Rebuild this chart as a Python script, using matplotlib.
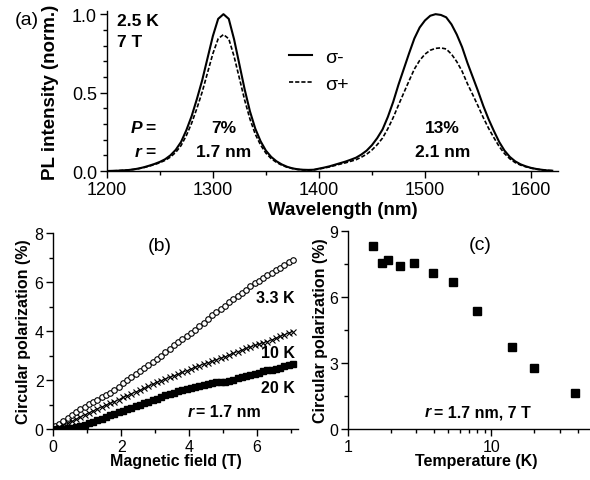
import numpy as np
import matplotlib
matplotlib.use("Agg")
import matplotlib.pyplot as plt
from matplotlib.ticker import MultipleLocator, LogLocator, NullFormatter, FixedLocator, FixedFormatter

plt.rcParams['font.family'] = ['Liberation Sans', 'DejaVu Sans']
plt.rcParams['axes.linewidth'] = 1.0

# (a) PL spectra, 2.5 K, 7 T
wavelength = [1200, 1205, 1210, 1215, 1220, 1225, 1230, 1235, 1240, 1245,
              1250, 1255, 1260, 1265, 1270, 1275, 1280, 1285, 1290, 1295,
              1300, 1305, 1310, 1315, 1320, 1325, 1330, 1335, 1340, 1345,
              1350, 1355, 1360, 1365, 1370, 1375, 1380, 1385, 1390, 1395,
              1400, 1405, 1410, 1415, 1420, 1425, 1430, 1435, 1440, 1445,
              1450, 1455, 1460, 1465, 1470, 1475, 1480, 1485, 1490, 1495,
              1500, 1505, 1510, 1515, 1520, 1525, 1530, 1535, 1540, 1545,
              1550, 1555, 1560, 1565, 1570, 1575, 1580, 1585, 1590, 1595,
              1600, 1605, 1610, 1615, 1620]
sigma_minus = [0.000, 0.001, 0.002, 0.004, 0.006, 0.010, 0.016, 0.024, 0.034, 0.045,
               0.058, 0.075, 0.100, 0.135, 0.185, 0.260, 0.350, 0.460, 0.580, 0.720,
               0.860, 0.970, 1.000, 0.970, 0.840, 0.680, 0.520, 0.380, 0.270, 0.190,
               0.130, 0.090, 0.062, 0.042, 0.027, 0.017, 0.011, 0.008, 0.007, 0.008,
               0.015, 0.022, 0.030, 0.040, 0.050, 0.060, 0.072, 0.085, 0.105, 0.130,
               0.165, 0.210, 0.265, 0.345, 0.440, 0.550, 0.650, 0.750, 0.845, 0.915,
               0.960, 0.990, 1.000, 0.995, 0.980, 0.935, 0.870, 0.790, 0.690, 0.600,
               0.510, 0.415, 0.330, 0.255, 0.185, 0.130, 0.090, 0.062, 0.043, 0.030,
               0.020, 0.013, 0.008, 0.004, 0.002]
sigma_plus = [0.000, 0.001, 0.002, 0.004, 0.006, 0.010, 0.015, 0.022, 0.031, 0.041,
              0.053, 0.068, 0.089, 0.119, 0.162, 0.226, 0.305, 0.400, 0.505, 0.627,
              0.748, 0.843, 0.870, 0.843, 0.731, 0.592, 0.452, 0.331, 0.235, 0.166,
              0.114, 0.079, 0.055, 0.037, 0.024, 0.016, 0.010, 0.007, 0.006, 0.007,
              0.013, 0.019, 0.026, 0.035, 0.044, 0.052, 0.062, 0.072, 0.088, 0.107,
              0.134, 0.168, 0.210, 0.270, 0.340, 0.420, 0.498, 0.575, 0.650, 0.705,
              0.745, 0.770, 0.782, 0.785, 0.778, 0.745, 0.697, 0.636, 0.557, 0.487,
              0.415, 0.340, 0.272, 0.212, 0.156, 0.111, 0.078, 0.054, 0.038, 0.027,
              0.018, 0.012, 0.007, 0.004, 0.002]

# (b) circular polarization vs magnetic field
field = [0.05, 0.175, 0.3, 0.425, 0.55, 0.675, 0.8, 0.925, 1.05, 1.175,
         1.3, 1.425, 1.55, 1.675, 1.8, 1.925, 2.05, 2.175, 2.3, 2.425,
         2.55, 2.675, 2.8, 2.925, 3.05, 3.175, 3.3, 3.425, 3.55, 3.675,
         3.8, 3.925, 4.05, 4.175, 4.3, 4.425, 4.55, 4.675, 4.8, 4.925,
         5.05, 5.175, 5.3, 5.425, 5.55, 5.675, 5.8, 5.925, 6.05, 6.175,
         6.3, 6.425, 6.55, 6.675, 6.8, 6.925, 7.05]
pol_3K = [0.12, 0.22, 0.34, 0.46, 0.58, 0.69, 0.80, 0.91, 1.01, 1.10,
          1.19, 1.29, 1.39, 1.49, 1.60, 1.73, 1.86, 1.99, 2.12, 2.25,
          2.37, 2.50, 2.62, 2.74, 2.86, 2.99, 3.13, 3.27, 3.41, 3.54,
          3.67, 3.80, 3.93, 4.06, 4.19, 4.33, 4.49, 4.64, 4.78, 4.91,
          5.04, 5.17, 5.30, 5.43, 5.56, 5.69, 5.82, 5.94, 6.05, 6.16,
          6.27, 6.37, 6.47, 6.58, 6.69, 6.80, 6.91]
pol_10K = [0.04, 0.10, 0.16, 0.23, 0.31, 0.40, 0.49, 0.58, 0.67, 0.74,
           0.83, 0.90, 0.98, 1.05, 1.12, 1.20, 1.29, 1.36, 1.44, 1.52,
           1.58, 1.66, 1.74, 1.83, 1.91, 1.98, 2.05, 2.11, 2.18, 2.24,
           2.31, 2.38, 2.45, 2.52, 2.59, 2.65, 2.71, 2.77, 2.83, 2.89,
           2.95, 3.02, 3.09, 3.16, 3.22, 3.29, 3.35, 3.41, 3.46, 3.52,
           3.57, 3.64, 3.71, 3.78, 3.85, 3.92, 3.98]
pol_20K = [0.02, 0.02, 0.02, 0.03, 0.05, 0.08, 0.13, 0.18, 0.24, 0.30,
           0.36, 0.42, 0.49, 0.56, 0.62, 0.69, 0.75, 0.81, 0.86, 0.92,
           0.98, 1.05, 1.11, 1.17, 1.24, 1.30, 1.37, 1.43, 1.49, 1.54,
           1.59, 1.63, 1.67, 1.71, 1.75, 1.79, 1.83, 1.88, 1.93, 1.92,
           1.90, 1.95, 2.01, 2.07, 2.12, 2.17, 2.22, 2.26, 2.30, 2.35,
           2.39, 2.41, 2.44, 2.50, 2.57, 2.62, 2.65]

# (c) circular polarization vs temperature
temperature = [1.50, 1.74, 1.91, 2.29, 2.88, 3.89, 5.39, 7.98, 13.9, 19.9, 38.3]
pol_temp = [8.31, 7.54, 7.67, 7.43, 7.54, 7.10, 6.68, 5.36, 3.75, 2.79, 1.65]


def style_axes(ax, size):
    for side in ['top', 'right']:
        ax.spines[side].set_visible(False)
    ax.tick_params(which='major', direction='out', length=5, width=1, labelsize=size, pad=2)
    ax.tick_params(which='minor', direction='out', length=3, width=1)


def italic_label(ax, x_sym, x_eq, y, sym, rest, size):
    ax.text(x_sym, y, sym, transform=ax.transAxes, fontsize=size, fontweight='bold',
            style='italic', ha='right', va='center')
    ax.text(x_eq, y, rest, transform=ax.transAxes, fontsize=size, fontweight='bold',
            ha='left', va='center')


fig = plt.figure(figsize=(5.9, 4.81), dpi=100)

# ---- panel (a)
axa = fig.add_axes([0.181, 0.6424, 0.764, 0.3326])
axa.plot(wavelength, sigma_minus, color='black', lw=1.5, label='σ-')
axa.plot(wavelength, sigma_plus, color='black', lw=1.2, ls=(0, (2.5, 1.2)), label='σ+')
axa.set_xlim(1200, 1625)
axa.set_ylim(0, 1.02)
axa.xaxis.set_major_locator(MultipleLocator(100))
axa.xaxis.set_minor_locator(MultipleLocator(50))
axa.yaxis.set_major_locator(MultipleLocator(0.5))
axa.yaxis.set_minor_locator(MultipleLocator(0.1))
style_axes(axa, 13)
axa.set_xlabel('Wavelength (nm)', fontsize=13.5, fontweight='bold', va='center')
axa.xaxis.set_label_coords(0.523, -0.2375)
axa.set_ylabel('PL intensity (norm.)', fontsize=13.5, fontweight='bold', va='center')
axa.yaxis.set_label_coords(-0.124, 0.5)
axa.legend(loc='upper left', bbox_to_anchor=(0.405, 0.765), frameon=False, fontsize=14,
           handlelength=1.15, handletextpad=0.7, labelspacing=0.45, borderpad=0, borderaxespad=0)
axa.text(0.022, 0.94, '2.5 K', transform=axa.transAxes, fontsize=12.5, fontweight='bold', va='center')
axa.text(0.022, 0.81, '7 T', transform=axa.transAxes, fontsize=12.5, fontweight='bold', va='center')
italic_label(axa, 0.078, 0.086, 0.275, 'P', '=', 12.5)
italic_label(axa, 0.078, 0.086, 0.125, 'r', '=', 12.5)
axa.text(0.259, 0.275, '7%', transform=axa.transAxes, fontsize=12.5, fontweight='bold', ha='center', va='center')
axa.text(0.259, 0.125, '1.7 nm', transform=axa.transAxes, fontsize=12.5, fontweight='bold', ha='center', va='center')
axa.text(0.745, 0.275, '13%', transform=axa.transAxes, fontsize=12.5, fontweight='bold', ha='center', va='center')
axa.text(0.745, 0.125, '2.1 nm', transform=axa.transAxes, fontsize=12.5, fontweight='bold', ha='center', va='center')
fig.text(0.025, 0.958, '(a)', fontsize=14, ha='left', va='center')

# ---- panel (b)
axb = fig.add_axes([0.0903, 0.106, 0.4147, 0.4075])
axb.plot(field, pol_3K, ls='none', marker='o', ms=4, mfc='white', mec='black', mew=0.8)
axb.plot(field, pol_10K, color='black', lw=0.6, marker='x', ms=4.5, mew=0.8)
axb.plot(field, pol_20K, ls='none', marker='s', ms=4.5, mfc='black', mec='black')
axb.set_xlim(0, 7.2)
axb.set_ylim(0, 8)
axb.xaxis.set_major_locator(MultipleLocator(2))
axb.xaxis.set_minor_locator(MultipleLocator(1))
axb.yaxis.set_major_locator(MultipleLocator(2))
axb.yaxis.set_minor_locator(MultipleLocator(1))
style_axes(axb, 11.5)
axb.set_xlabel('Magnetic field (T)', fontsize=11.5, fontweight='bold', va='center')
axb.xaxis.set_label_coords(0.5, -0.16)
axb.set_ylabel('Circular polarization (%)', fontsize=11.5, fontweight='bold', va='center')
axb.yaxis.set_label_coords(-0.12, 0.5)
axb.text(0.436, 0.934, '(b)', transform=axb.transAxes, fontsize=14, ha='center', va='center')
axb.text(0.988, 0.673, '3.3 K', transform=axb.transAxes, fontsize=11.5, fontweight='bold', ha='right', va='center')
axb.text(0.988, 0.39, '10 K', transform=axb.transAxes, fontsize=11.5, fontweight='bold', ha='right', va='center')
axb.text(0.988, 0.214, '20 K', transform=axb.transAxes, fontsize=11.5, fontweight='bold', ha='right', va='center')
italic_label(axb, 0.575, 0.585, 0.087, 'r', '= 1.7 nm', 11.5)

# ---- panel (c)
axc = fig.add_axes([0.5898, 0.106, 0.4085, 0.4116])
axc.plot(temperature, pol_temp, ls='none', marker='s', ms=6, mfc='black', mec='black')
axc.set_xscale('log')
axc.set_xlim(1, 48)
axc.set_ylim(0, 9)
axc.xaxis.set_major_locator(FixedLocator([1, 10]))
axc.xaxis.set_major_formatter(FixedFormatter(['1', '10']))
axc.xaxis.set_minor_locator(LogLocator(base=10, subs=np.arange(2, 10), numticks=10))
axc.xaxis.set_minor_formatter(NullFormatter())
axc.yaxis.set_major_locator(MultipleLocator(3))
axc.yaxis.set_minor_locator(MultipleLocator(1.5))
style_axes(axc, 11.5)
axc.set_xlabel('Temperature (K)', fontsize=11.5, fontweight='bold', va='center')
axc.xaxis.set_label_coords(0.534, -0.16)
axc.set_ylabel('Circular polarization (%)', fontsize=11.5, fontweight='bold', va='center')
axc.yaxis.set_label_coords(-0.116, 0.5)
axc.text(0.548, 0.934, '(c)', transform=axc.transAxes, fontsize=14, ha='center', va='center')
italic_label(axc, 0.345, 0.355, 0.087, 'r', '= 1.7 nm, 7 T', 11.5)

fig.savefig('out.png', dpi=100)
